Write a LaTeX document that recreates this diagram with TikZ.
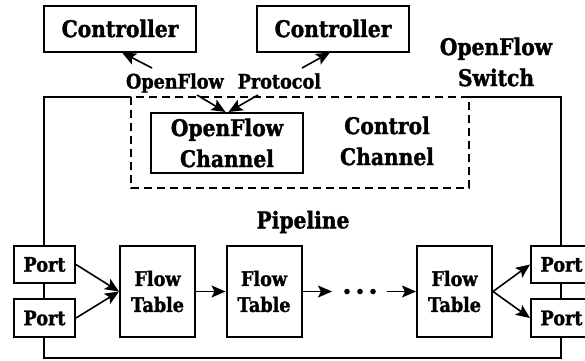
\documentclass[tikz,border=0pt]{standalone}
\usepackage{fontspec}
\setmainfont{DejaVu Serif}[FakeStretch=0.88, BoldFeatures={FakeBold=1.4}]
\usetikzlibrary{arrows.meta}

\begin{document}
\begin{tikzpicture}[x=1pt,y=-1pt,
  box/.style={draw, line width=2pt, fill=white, inner sep=0pt, align=center},
  big/.style={font=\bfseries\fontsize{23}{31}\selectfont, align=center},
  small/.style={font=\bfseries\fontsize{20}{26}\selectfont, align=center},
  arr/.style={line width=1.6pt, -{Stealth[length=14pt,width=12pt,inset=3pt]}},
  port/.style={box, small, minimum width=61pt, minimum height=37pt},
  table/.style={box, small, minimum width=75pt, minimum height=91pt},
]
\useasboundingbox (0,0) rectangle (585,360);
\clip (0,0) rectangle (585,360);

% switch frame, open where the control channel sits on its top edge
\draw[line width=2pt] (131,97) -- (44,97) -- (44,358) -- (561,358) -- (561,97) -- (469,97);
% control channel
\draw[line width=1.8pt, dash pattern=on 8pt off 5pt] (131,97) rectangle (469,188);

% controllers
\node[box, big, minimum width=152pt, minimum height=46pt] (ctrlA) at (120,28.5) {Controller};
\node[box, big, minimum width=152pt, minimum height=46pt] (ctrlB) at (333,28.5) {Controller};

% labels
\node[big] (switch) at (496,62) {OpenFlow\\Switch};
\node[small] (proto) at (223.5,83) {OpenFlow\hspace{14pt}Protocol};
\node[big] (cc) at (387,141) {Control\\Channel};
\node[big] (pipe) at (303,222) {Pipeline};

% OpenFlow channel
\node[box, big, minimum width=152pt, minimum height=60pt] (ofchan) at (227,143) {OpenFlow\\Channel};

% ports and flow tables
\node[port] (pl1) at (44.5,264.5) {Port};
\node[port, minimum height=38pt] (pl2) at (44.5,318) {Port};
\node[table] (ft1) at (157.5,291.5) {Flow\\Table};
\node[table] (ft2) at (264,291.5) {Flow\\Table};
\node[table] (ft3) at (454.5,291.5) {Flow\\Table};
\node[port] (pr1) at (561.5,264.5) {Port};
\node[port, minimum height=38pt] (pr2) at (561.5,318) {Port};

% pipeline connectors
\draw[arr] (pl1.east) -- (ft1.west);
\draw[arr] (pl2.east) -- (ft1.west);
\draw[arr] (ft1.east) -- (ft2.west);
\coordinate (dotsL) at (332,291.5);
\coordinate (dotsR) at (387,291.5);
\draw[arr] (ft2.east) -- (dotsL);
\foreach \x in {347,360,373} \fill (\x,291.5) circle (2.8pt);
\draw[arr] (dotsR) -- (ft3.west);
\draw[arr] (ft3.east) -- (pr1.west);
\draw[arr] (ft3.east) -- (pr2.west);

% protocol connectors
\coordinate (pA) at (152,68);
\coordinate (pB) at (302,68);
\draw[arr] (pA) -- ([xshift=2pt]ctrlA.south);
\draw[arr] (pB) -- ([xshift=-3pt]ctrlB.south);
\coordinate (qA) at (197,95);
\coordinate (qB) at (258,95);
\draw[arr] (qA) -- ([xshift=-1.5pt]ofchan.north);
\draw[arr] (qB) -- ([xshift=1.5pt]ofchan.north);
\end{tikzpicture}
\end{document}
